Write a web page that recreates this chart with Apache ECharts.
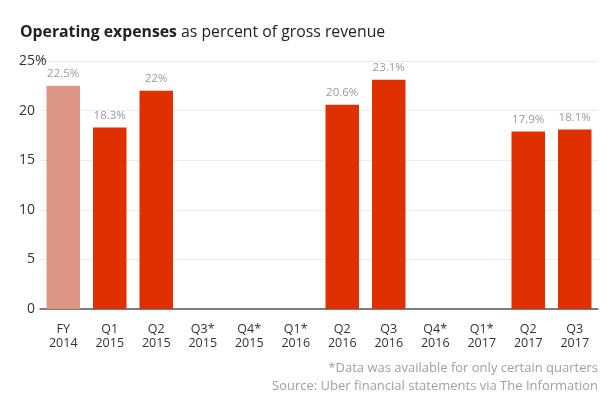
<!DOCTYPE html>
<html>
<head>
<meta charset="utf-8">
<script src="https://cdn.jsdelivr.net/npm/echarts@6/dist/echarts.min.js"></script>
<style>
html,body{margin:0;padding:0;background:#fff;}
#c{width:606px;height:403px;}
</style>
</head>
<body>
<div id="c"></div>
<script>
const categories = ['FY\n2014','Q1\n2015','Q2\n2015','Q3*\n2015','Q4*\n2015','Q1*\n2016','Q2\n2016','Q3\n2016','Q4*\n2016','Q1*\n2017','Q2\n2017','Q3\n2017'];
const values = [22.5, 18.3, 22, null, null, null, 20.6, 23.1, null, null, 17.9, 18.1];
const yTicks = [0, 5, 10, 15, 20, 25];
const titleBold = 'Operating expenses';
const titleRest = ' as percent of gross revenue';
const footnote = '*Data was available for only certain quarters';
const source = 'Source: Uber financial statements via The Information';

const FONT = '"Open Sans"';
const chart = echarts.init(document.getElementById('c'), null, {renderer: 'canvas'});

const data = values.map((v, i) => ({
  value: v,
  itemStyle: {color: i === 0 ? '#de9687' : '#e03000'}
}));

function graphics(yTop) {
  const g = [
    {type: 'text', right: 8, top: 362, style: {text: footnote, fill: '#a0a0a0', font: '13px ' + FONT}},
    {type: 'text', right: 8, top: 380, style: {text: source, fill: '#a0a0a0', font: '13px ' + FONT}}
  ];
  if (yTop != null) {
    g.push({type: 'text', x: 35, y: yTop, style: {text: '%', fill: '#333', font: '14px ' + FONT, textVerticalAlign: 'middle', textAlign: 'left'}});
  }
  return g;
}

chart.setOption({
  animation: false,
  textStyle: {fontFamily: FONT},
  title: {
    text: '{b|' + titleBold + '}{r|' + titleRest + '}',
    left: 15, top: 19,
    textStyle: {
      rich: {
        b: {fontFamily: FONT, fontSize: 15.8, fontWeight: 'bold', color: '#222'},
        r: {fontFamily: FONT, fontSize: 15.8, fontWeight: 'normal', color: '#222'}
      }
    }
  },
  grid: {left: 40, right: 8, top: 61, bottom: 94, containLabel: false},
  xAxis: {
    type: 'category',
    data: categories,
    axisLine: {lineStyle: {color: '#555', width: 1.5}},
    axisTick: {inside: true, length: 5, lineStyle: {color: '#555'}},
    axisLabel: {color: '#333', fontSize: 12.5, lineHeight: 14, margin: 13, fontFamily: FONT}
  },
  yAxis: {
    type: 'value',
    min: 0, max: 25, interval: 5,
    axisLine: {show: false},
    axisTick: {show: false},
    splitLine: {lineStyle: {color: '#ececec', width: 1}},
    axisLabel: {
      color: '#333', fontSize: 14, margin: 5, fontFamily: FONT,
      formatter: v => yTicks.includes(v) ? String(v) : ''
    }
  },
  series: [{
    type: 'bar',
    data: data,
    barCategoryGap: '28%',
    label: {
      show: true, position: 'top', distance: 6,
      color: '#9a9a9a', fontSize: 11.5, fontFamily: FONT,
      formatter: p => p.value == null ? '' : p.value + '%'
    }
  }],
  graphic: graphics(null)
});

const yTop = chart.convertToPixel({yAxisIndex: 0}, yTicks[yTicks.length - 1]);
chart.setOption({graphic: graphics(yTop)}, {replaceMerge: ['graphic']});
</script>
</body>
</html>
